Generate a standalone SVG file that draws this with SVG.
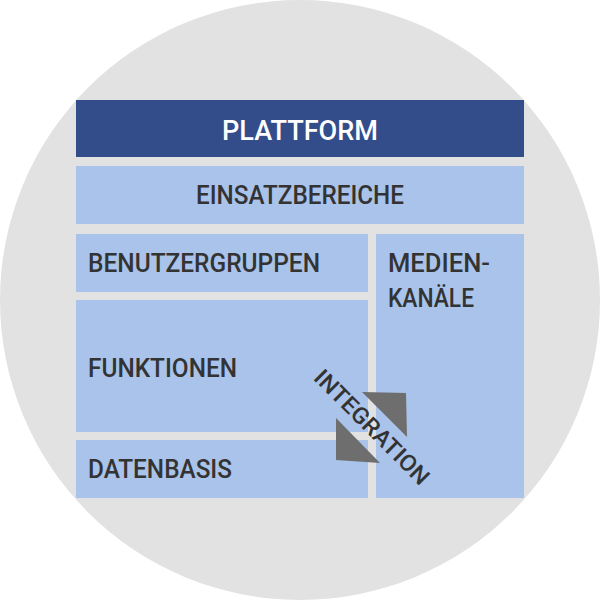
<svg xmlns="http://www.w3.org/2000/svg" width="600" height="600" viewBox="0 0 600 600">
<style>
.b{fill:#a9c3eb}
.t{font-family:Roboto,"Liberation Sans",sans-serif;font-size:25px;fill:#333;font-weight:500}
</style>
<circle cx="300" cy="300" r="300" fill="#e2e2e2"/>
<g id="plattform"><rect x="76" y="100" width="448" height="57" fill="#324d8a"/><text x="300" y="140" text-anchor="middle" class="t" style="fill:#fff;font-size:27px" textLength="156" lengthAdjust="spacingAndGlyphs">PLATTFORM</text></g>
<g id="einsatz"><rect class="b" x="76" y="166" width="448" height="58"/><text x="300" y="204" text-anchor="middle" class="t" textLength="208" lengthAdjust="spacingAndGlyphs">EINSATZBEREICHE</text></g>
<g id="benutzer"><rect class="b" x="76" y="234" width="292" height="58"/><text x="88" y="272" class="t" textLength="232" lengthAdjust="spacingAndGlyphs">BENUTZERGRUPPEN</text></g>
<g id="medien"><rect class="b" x="376" y="234" width="148" height="264"/><text x="388" y="272" class="t" textLength="102" lengthAdjust="spacingAndGlyphs">MEDIEN-</text><text x="388" y="307" class="t" textLength="86" lengthAdjust="spacingAndGlyphs">KANÄLE</text></g>
<g id="funktionen"><rect class="b" x="76" y="300" width="292" height="132"/><text x="88" y="377" class="t" textLength="149" lengthAdjust="spacingAndGlyphs">FUNKTIONEN</text></g>
<g id="daten"><rect class="b" x="76" y="440" width="292" height="58"/><text x="88" y="478" class="t" textLength="144" lengthAdjust="spacingAndGlyphs">DATENBASIS</text></g>
<g id="integration">
<polygon points="362,392 406,393 407,437" fill="#6e6e6e"/>
<polygon points="336,418 336,460 380,463" fill="#6e6e6e"/>
<text transform="translate(372,427) rotate(45)" x="0" y="8" text-anchor="middle" class="t" style="font-size:23px" textLength="152" lengthAdjust="spacingAndGlyphs">INTEGRATION</text>
</g>
</svg>
